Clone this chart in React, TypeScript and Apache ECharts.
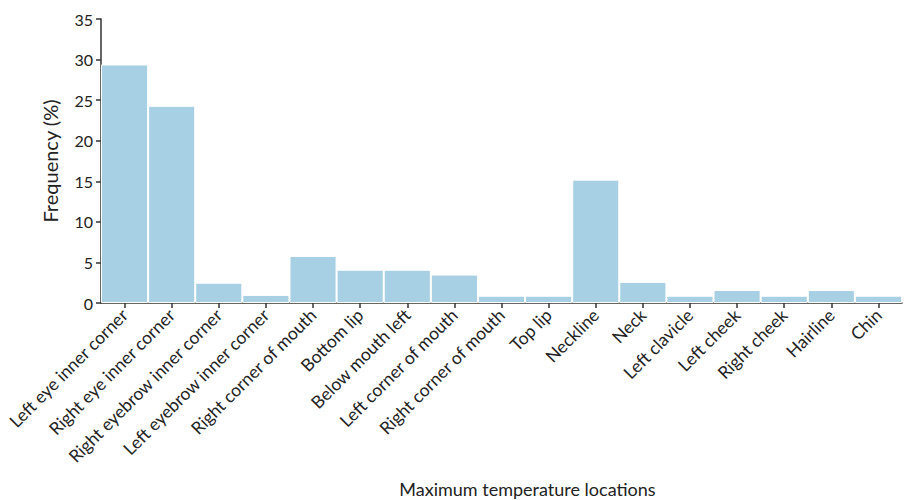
import React, { useEffect, useRef } from "react";
import * as echarts from "echarts";

const categories = [
  "Left eye inner corner",
  "Right eye inner corner",
  "Right eyebrow inner corner",
  "Left eyebrow inner corner",
  "Right corner of mouth",
  "Bottom lip",
  "Below mouth left",
  "Left corner of mouth",
  "Right corner of mouth",
  "Top lip",
  "Neckline",
  "Neck",
  "Left clavicle",
  "Left cheek",
  "Right cheek",
  "Hairline",
  "Chin",
];

const frequency = [29.4, 24.3, 2.5, 1.0, 5.8, 4.1, 4.1, 3.5, 0.9, 0.9, 15.2, 2.6, 0.9, 1.6, 0.9, 1.6, 0.9];

const yTicks = [0, 5, 10, 15, 20, 25, 30, 35];

const FONT = "Lato, 'Open Sans', sans-serif";

export default function App() {
  const ref = useRef<HTMLDivElement>(null);
  useEffect(() => {
    if (!ref.current) return;
    const chart = echarts.init(ref.current, undefined, { renderer: "svg" });
    chart.setOption({
      animation: false,
      backgroundColor: "#ffffff",
      grid: { left: 101, right: 7, top: 19, bottom: 197, containLabel: false, outerBoundsMode: "none" },
      xAxis: {
        type: "category",
        data: categories,
        name: "Maximum temperature locations",
        nameLocation: "middle",
        nameGap: 177,
        nameTextStyle: { fontSize: 18, color: "#222", fontFamily: FONT, padding: [0, 0, 0, 52] },
        axisLine: { show: true, lineStyle: { color: "#333", width: 1.5 } },
        axisTick: { show: true, alignWithLabel: true, length: 5, lineStyle: { color: "#333", width: 1.5 } },
        axisLabel: {
          rotate: 45,
          interval: 0,
          fontSize: 17.5,
          color: "#222",
          fontFamily: FONT,
          margin: 9,
        },
      },
      yAxis: {
        type: "value",
        min: yTicks[0],
        max: yTicks[yTicks.length - 1],
        interval: 5,
        name: "Frequency (%)",
        nameLocation: "middle",
        nameRotate: 90,
        nameGap: 41,
        nameTextStyle: { fontSize: 20, color: "#222", fontFamily: FONT },
        axisLine: { show: true, lineStyle: { color: "#333", width: 1.5 } },
        axisTick: { show: true, length: 5, lineStyle: { color: "#333", width: 1.5 } },
        axisLabel: { fontSize: 16, color: "#222", fontFamily: FONT, margin: 8 },
        splitLine: { show: false },
      },
      series: [
        {
          type: "bar",
          data: frequency,
          barCategoryGap: "0%",
          itemStyle: { color: "#a8d0e4", borderColor: "#ffffff", borderWidth: 1 },
        },
      ],
    });
    return () => chart.dispose();
  }, []);
  return (
    <div
      ref={ref}
      style={{ position: "fixed", left: 0, top: 0, width: 909, height: 500, background: "#fff" }}
    />
  );
}
